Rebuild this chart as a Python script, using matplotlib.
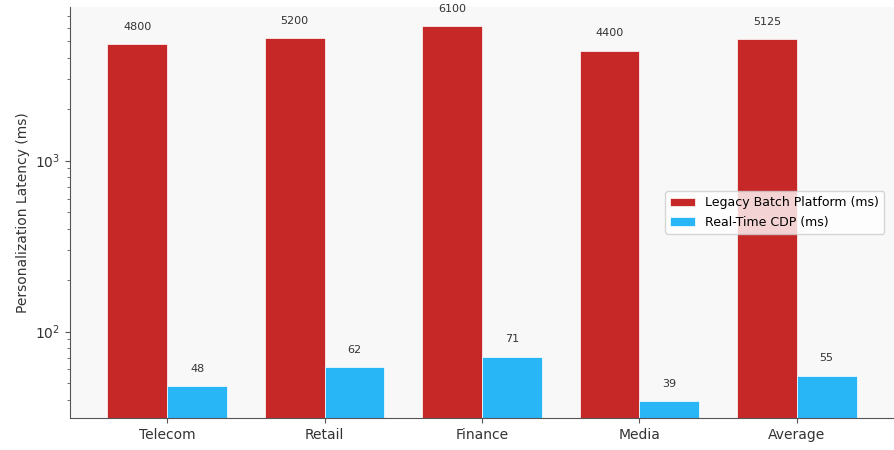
import numpy as np
import matplotlib
matplotlib.use("Agg")
import matplotlib.pyplot as plt

# Personalization latency per industry, legacy batch vs real-time CDP
industries = ["Telecom", "Retail", "Finance", "Media", "Average"]
legacy_ms = [4800, 5200, 6100, 4400, 5125]
realtime_ms = [48, 62, 71, 39, 55]

legacy_color = "#c62828"
realtime_color = "#29b6f6"
text_color = "#333333"

fig = plt.figure(figsize=(8.94, 4.5), dpi=100)
ax = fig.add_axes([70 / 894, 32 / 450, 824 / 894, 411 / 450])
ax.set_facecolor("#f8f8f8")

x = np.arange(len(industries))
width = 0.38

bars_legacy = ax.bar(x - width / 2, legacy_ms, width, color=legacy_color,
                     edgecolor="white", linewidth=0.5, label="Legacy Batch Platform (ms)")
bars_rt = ax.bar(x + width / 2, realtime_ms, width, color=realtime_color,
                 edgecolor="white", linewidth=0.5, label="Real-Time CDP (ms)")

ax.set_yscale("log")
ax.set_ylim(min(realtime_ms) * 0.8, max(legacy_ms) * 1.3)

# value labels above each bar
for bars, vals in [(bars_legacy, legacy_ms), (bars_rt, realtime_ms)]:
    for b, v in zip(bars, vals):
        ax.annotate(f"{v}", (b.get_x() + b.get_width() / 2, v),
                    xytext=(0, 9), textcoords="offset points",
                    ha="center", va="bottom", fontsize=8, color=text_color)

ax.set_xticks(x)
ax.set_xticklabels(industries, fontsize=10, color=text_color)
ax.tick_params(axis="y", labelsize=10, colors=text_color)
ax.tick_params(axis="both", which="both", color="#555555")
ax.set_ylabel("Personalization Latency (ms)", fontsize=10, color=text_color)

for side in ["top", "right"]:
    ax.spines[side].set_visible(False)
for side in ["left", "bottom"]:
    ax.spines[side].set_color("#555555")

ax.legend(loc="center right", fontsize=9, borderaxespad=0.8)

fig.savefig("out.png", dpi=100)
